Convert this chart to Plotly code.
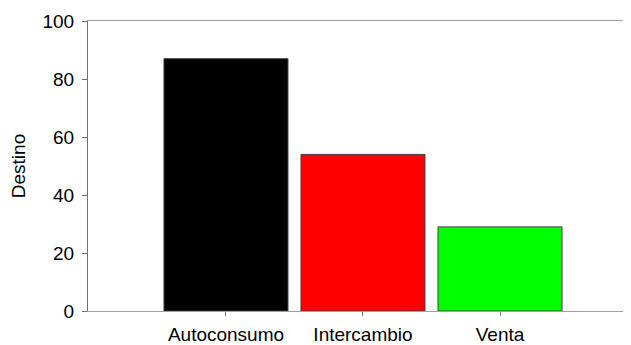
import plotly.graph_objects as go

categories = ["Autoconsumo", "Intercambio", "Venta"]
destino = [87, 54, 29]
bar_colors = ["#000000", "#ff0000", "#00ff00"]
y_ticks = [0, 20, 40, 60, 80, 100]


def create_plot():
    # the page body has an 8px margin, so the figure is a bit smaller than the window
    fig = go.Figure(go.Bar(
        x=list(range(len(categories))), y=destino,
        marker=dict(color=bar_colors, line=dict(color="#404040", width=1)),
        width=0.905,
    ))
    fig.update_layout(
        width=623, height=337,
        margin=dict(l=80, r=0, t=13, b=34),
        plot_bgcolor="white", paper_bgcolor="white",
        font=dict(family="Liberation Sans, Arial, sans-serif", size=19, color="black"),
        showlegend=False,
    )
    fig.update_xaxes(
        range=[-1.007, 2.956],
        tickvals=list(range(len(categories))), ticktext=categories,
        showline=True, linecolor="#a0a0a0", linewidth=1, mirror=True,
        ticks="outside", ticklen=4, tickcolor="#808080",
        ticklabelstandoff=2, automargin=False,
        showgrid=False, zeroline=False,
    )
    fig.update_yaxes(
        range=[0, 100], tickvals=y_ticks,
        title_text="Destino", title_font_size=19, title_standoff=14,
        showline=True, linecolor="#707070", linewidth=1,
        ticks="outside", ticklen=5, tickcolor="#707070",
        ticklabelstandoff=4, automargin=False,
        showgrid=False, zeroline=False,
    )
    fig.write_html("out.html")


def main():
    create_plot()


if __name__ == '__main__':
    main()
